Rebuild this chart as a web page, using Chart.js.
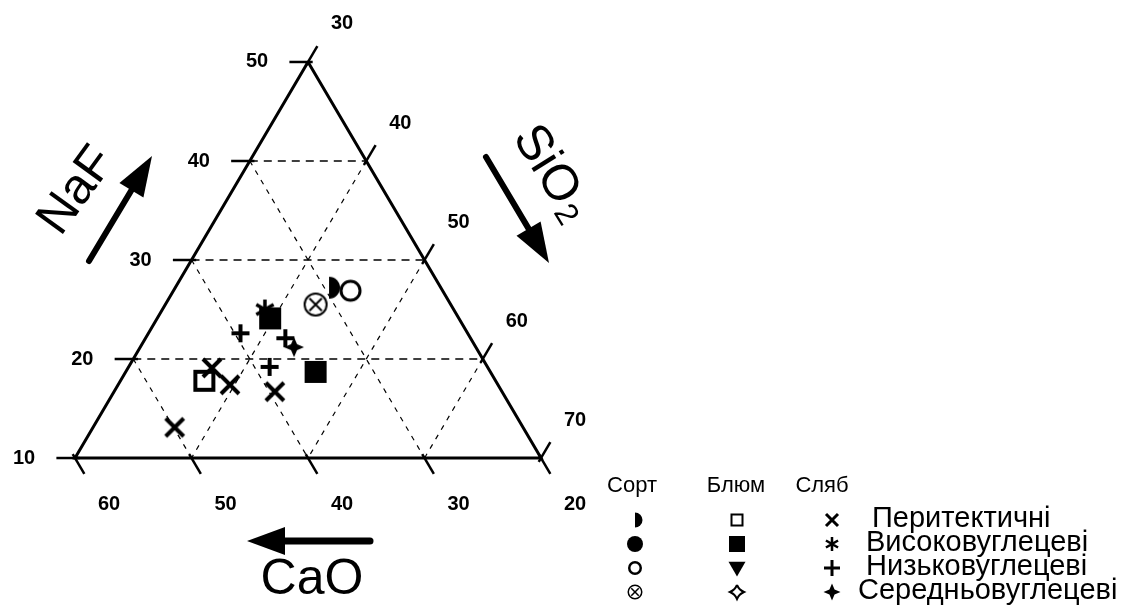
<!DOCTYPE html>
<html lang="uk">
<head>
<meta charset="UTF-8">
<title>NaF – SiO2 – CaO</title>
<script src="https://cdn.jsdelivr.net/npm/chart.js@4.4.0/dist/chart.umd.min.js"></script>
<style>
  html, body { margin: 0; padding: 0; background: #fff; }
  #wrap { width: 1126px; height: 610px; }
</style>
</head>
<body>
<div id="wrap"><canvas id="tern" width="1126" height="610"></canvas></div>
<script>
// склад: [NaF, SiO2, CaO], %
const sortPeryt   = [[27.2, 43.2, 29.6]];
const sortNyzko   = [[26.9, 45.2, 27.9]];
const sortSeredn  = [[25.5, 42.9, 31.6]];
const blumPeryt   = [[17.8, 37.2, 45.0]];
const blumVysoko  = [[24.1, 39.7, 36.2], [18.7, 46.3, 35.0]];
const slabPeryt   = [[19.1, 37.2, 43.7], [17.4, 39.6, 43.0], [16.7, 43.8, 39.5], [13.1, 37.0, 49.9]];
const slabVysoko  = [[25.0, 38.8, 36.2]];
const slabNyzko   = [[22.6, 37.9, 39.5], [22.1, 42.0, 35.9], [19.2, 42.1, 38.7]];
const slabSeredn  = [[21.2, 43.2, 35.6]];

// межі трикутника і поділки
const nafTicks  = [50, 40, 30, 20, 10];
const sio2Ticks = [30, 40, 50, 60, 70];
const caoTicks  = [60, 50, 40, 30, 20];
const nafGrid  = [40, 30, 20];
const sio2Grid = [40, 50, 60];
const caoGrid  = [50, 40, 30];
const NAF_MIN = 10, SIO2_MIN = 30, CAO_MIN = 20;

const groups = ['Сорт', 'Блюм', 'Сляб'];
const categories = ['Перитектичні', 'Високовуглецеві', 'Низьковуглецеві', 'Середньовуглецеві'];

// ternary -> x/y in chart units
function tp(naf, sio2) { return { x: sio2 + naf / 2, y: naf }; }
function pts(arr) { return arr.map(p => tp(p[0], p[1])); }

function drawMarker(ctx, kind, r, lw) {
  ctx.save();
  ctx.lineWidth = lw; ctx.strokeStyle = '#000'; ctx.fillStyle = '#000';
  ctx.beginPath();
  const P = Math.PI;
  switch (kind) {
    case 'halfDisk':
      ctx.arc(0, 0, r, -P / 2, P / 2); ctx.closePath(); ctx.fill(); break;
    case 'disk':
      ctx.arc(0, 0, r, 0, 2 * P); ctx.fill(); break;
    case 'ring':
      ctx.arc(0, 0, r - lw / 2, 0, 2 * P); ctx.stroke(); break;
    case 'otimes': {
      ctx.arc(0, 0, r - lw / 2, 0, 2 * P); ctx.stroke();
      const d = (r - lw) * 0.62;
      ctx.beginPath();
      ctx.moveTo(-d, -d); ctx.lineTo(d, d); ctx.moveTo(-d, d); ctx.lineTo(d, -d);
      ctx.stroke(); break;
    }
    case 'square':
      ctx.strokeRect(-r + lw / 2, -r + lw / 2, 2 * r - lw, 2 * r - lw); break;
    case 'squareFill':
      ctx.fillRect(-r, -r, 2 * r, 2 * r); break;
    case 'triDown':
      ctx.moveTo(-r, -r * 0.75); ctx.lineTo(r, -r * 0.75); ctx.lineTo(0, r); ctx.closePath(); ctx.fill(); break;
    case 'diamondOpen': {
      const k = r * 0.3;
      ctx.moveTo(0, -r);
      ctx.quadraticCurveTo(k, -k, r, 0);
      ctx.quadraticCurveTo(k, k, 0, r);
      ctx.quadraticCurveTo(-k, k, -r, 0);
      ctx.quadraticCurveTo(-k, -k, 0, -r);
      ctx.stroke(); break;
    }
    case 'x':
      ctx.moveTo(-r, -r); ctx.lineTo(r, r); ctx.moveTo(-r, r); ctx.lineTo(r, -r); ctx.stroke(); break;
    case 'asterisk': {
      const c = Math.cos(P / 6) * r, s = Math.sin(P / 6) * r;
      ctx.moveTo(0, -r); ctx.lineTo(0, r);
      ctx.moveTo(-c, -s); ctx.lineTo(c, s);
      ctx.moveTo(-c, s); ctx.lineTo(c, -s);
      ctx.stroke(); break;
    }
    case 'plus':
      ctx.moveTo(0, -r); ctx.lineTo(0, r); ctx.moveTo(-r, 0); ctx.lineTo(r, 0); ctx.stroke(); break;
    case 'star4': {
      const q = r * 0.3;
      ctx.moveTo(0, -r); ctx.lineTo(q, -q); ctx.lineTo(r, 0); ctx.lineTo(q, q);
      ctx.lineTo(0, r); ctx.lineTo(-q, q); ctx.lineTo(-r, 0); ctx.lineTo(-q, -q);
      ctx.closePath(); ctx.fill(); break;
    }
  }
  ctx.restore();
}

function markerImg(kind, r, lw) {
  const c = document.createElement('canvas');
  const n = Math.ceil(2 * r + lw + 4);
  c.width = n; c.height = n;
  const ctx = c.getContext('2d');
  ctx.translate(n / 2, n / 2);
  drawMarker(ctx, kind, r, lw);
  return c;
}

const legendKinds = [
  ['halfDisk', 'disk', 'ring', 'otimes'],
  ['square', 'squareFill', 'triDown', 'diamondOpen'],
  ['x', 'asterisk', 'plus', 'star4']
];
const legendSize = [
  [[7.5, 0], [8, 0], [7, 2.5], [7.5, 1.5]],
  [[6.5, 2], [8, 0], [8.5, 0], [7, 2]],
  [[6, 3], [7, 2.5], [8, 3], [8.5, 0]]
];

// лінії: сторони, пунктирна сітка, поділки
const lineSets = [];
function seg(a, b, width, dash) {
  lineSets.push({ type: 'scatter', data: [tp(a[0], a[1]), tp(b[0], b[1])], showLine: true,
    borderColor: '#000', borderWidth: width, borderDash: dash || [], pointRadius: 0, fill: false });
}
// сторони трикутника
lineSets.push({ type: 'scatter', showLine: true, borderColor: '#000', borderWidth: 3, pointRadius: 0, fill: false,
  data: [tp(50, 30), tp(10, 70), tp(10, 30), tp(50, 30)] });
nafGrid.forEach(v => seg([v, SIO2_MIN], [v, 100 - v - CAO_MIN], 1.4, [8, 6]));
sio2Grid.forEach(v => seg([100 - v - CAO_MIN, v], [NAF_MIN, v], 1.2, [5, 6]));
caoGrid.forEach(v => seg([100 - v - SIO2_MIN, SIO2_MIN], [NAF_MIN, 100 - v - NAF_MIN], 1.2, [5, 6]));
const TL = 1.6, TI = 0.4;
nafTicks.forEach(v => seg([v, SIO2_MIN - TL], [v, SIO2_MIN + TI], 2.5));
sio2Ticks.forEach(v => { const n = 100 - v - CAO_MIN; seg([n + TL, v], [n - TI, v], 2.5); });
caoTicks.forEach(v => { const s = 100 - v - NAF_MIN; seg([NAF_MIN - TL, s + TL], [NAF_MIN + TI, s - TI], 2.5); });

function series(arr, kind, r, lw) {
  return { type: 'scatter', data: pts(arr), pointStyle: markerImg(kind, r, lw), pointRadius: r };
}
const markSets = [
  series(sortPeryt, 'halfDisk', 11, 0),
  series(sortNyzko, 'ring', 11, 3),
  series(sortSeredn, 'otimes', 12, 2),
  series(blumPeryt, 'square', 11, 4),
  series(blumVysoko, 'squareFill', 11, 0),
  series(slabPeryt, 'x', 9, 4),
  series(slabVysoko, 'asterisk', 10, 3.5),
  series(slabNyzko, 'plus', 9, 4),
  series(slabSeredn, 'star4', 10, 0)
];

function arrow(ctx, x1, y1, x2, y2, lw, hl, hw) {
  const a = Math.atan2(y2 - y1, x2 - x1);
  const bx = x2 - hl * Math.cos(a), by = y2 - hl * Math.sin(a);
  ctx.save();
  ctx.strokeStyle = '#000'; ctx.fillStyle = '#000'; ctx.lineWidth = lw; ctx.lineCap = 'round';
  ctx.beginPath(); ctx.moveTo(x1, y1); ctx.lineTo(bx, by); ctx.stroke();
  ctx.beginPath();
  ctx.moveTo(x2, y2);
  ctx.lineTo(bx + hw * Math.sin(a), by - hw * Math.cos(a));
  ctx.lineTo(bx - hw * Math.sin(a), by + hw * Math.cos(a));
  ctx.closePath(); ctx.fill();
  ctx.restore();
}

const decor = {
  id: 'decor',
  afterDraw(chart) {
    const ctx = chart.ctx, sx = chart.scales.x, sy = chart.scales.y;
    const px = (n, s) => { const p = tp(n, s); return [sx.getPixelForValue(p.x), sy.getPixelForValue(p.y)]; };
    ctx.save();
    ctx.fillStyle = '#000';
    ctx.textAlign = 'center'; ctx.textBaseline = 'middle';
    ctx.font = 'bold 20px "Liberation Sans", Arial, sans-serif';
    nafTicks.forEach(v => { const [x, y] = px(v, SIO2_MIN); ctx.fillText(String(v), x - 51, y); });
    sio2Ticks.forEach(v => { const [x, y] = px(100 - v - CAO_MIN, v); ctx.fillText(String(v), x + 34, y - 38); });
    caoTicks.forEach(v => { const [x, y] = px(NAF_MIN, 100 - v - NAF_MIN); ctx.fillText(String(v), x + 34, y + 46); });

    // назви осей
    ctx.font = '50px "Liberation Sans", Arial, sans-serif';
    ctx.save(); ctx.translate(77, 191); ctx.rotate(-54 * Math.PI / 180); ctx.fillText('NaF', 0, 0); ctx.restore();
    ctx.save(); ctx.translate(550, 172); ctx.rotate(58 * Math.PI / 180);
    ctx.textAlign = 'left';
    const w = ctx.measureText('SiO').width;
    ctx.fillText('SiO', -w / 2 - 8, 0);
    ctx.font = '32px "Liberation Sans", Arial, sans-serif';
    ctx.fillText('2', w / 2 - 6, 10);
    ctx.restore();
    ctx.font = '50px "Liberation Sans", Arial, sans-serif';
    ctx.fillText('CaO', 312, 580);

    arrow(ctx, 89, 261, 152, 156, 6, 40, 14);
    arrow(ctx, 486, 157, 549, 263, 6, 40, 14);
    arrow(ctx, 370, 541, 247, 541, 7, 38, 14);

    // легенда
    ctx.font = '22px "Liberation Sans", Arial, sans-serif';
    const colX = [635, 737, 832];
    const titleX = [632, 736, 822];
    groups.forEach((g, i) => ctx.fillText(g, titleX[i], 486));
    const rowY = [519, 543, 567, 591];
    const textX = [872, 866, 866, 858];
    ctx.textAlign = 'left';
    ctx.font = '29px "Liberation Sans", Arial, sans-serif';
    categories.forEach((c, j) => {
      legendKinds.forEach((col, i) => {
        const [r, lw] = legendSize[i][j];
        ctx.save(); ctx.translate(colX[i], rowY[j] + 1); drawMarker(ctx, col[j], r, lw); ctx.restore();
      });
      ctx.fillText(c, textX[j], rowY[j]);
    });
    ctx.restore();
  }
};

new Chart(document.getElementById('tern'), {
  type: 'scatter',
  data: { datasets: lineSets.concat(markSets) },
  options: {
    responsive: false,
    animation: false,
    events: [],
    layout: { padding: 0, autoPadding: false },
    scales: {
      x: { type: 'linear', display: false, min: 28.56, max: 125.21 },
      y: { type: 'linear', display: false, min: -5.35, max: 56.26 }
    },
    plugins: { legend: { display: false }, tooltip: { enabled: false } }
  },
  plugins: [decor]
});
</script>
</body>
</html>
